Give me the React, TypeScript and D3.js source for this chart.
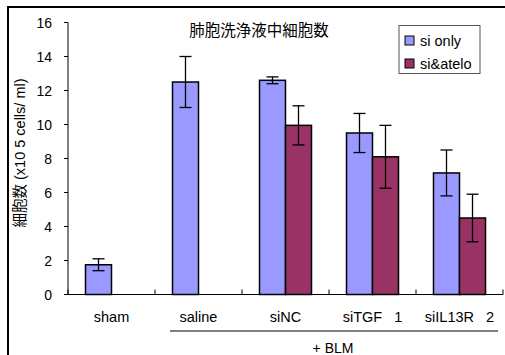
import React from "react";
import * as d3 from "d3";

const categories = ["sham", "saline", "siNC", "siTGF   1", "siIL13R   2"];
const seriesNames = ["si only", "si&atelo"];
const siOnly: (number | null)[] = [1.75, 12.5, 12.6, 9.5, 7.15];
const siOnlyErr: (number | null)[] = [0.35, 1.5, 0.2, 1.15, 1.35];
const siAtelo: (number | null)[] = [null, null, 9.95, 8.1, 4.5];
const siAteloErr: (number | null)[] = [null, null, 1.15, 1.85, 1.4];
const yTicks = [0, 2, 4, 6, 8, 10, 12, 14, 16];
const colors = ["#9999FF", "#993366"];
const title = "肺胞洗浄液中細胞数";
const yTitleCjk = "細胞数";
const yTitleRest = " (x10 5 cells/ ml)";
const groupLabel = "+ BLM";

export default function App() {
  const W = 505, H = 355;
  const left = 68, right = 503, top = 22.5, bottom = 294.5;
  const x = d3.scaleBand<string>().domain(categories).range([left, right]);
  const y = d3.scaleLinear().domain([0, 16]).range([bottom, top]);
  const bw = 26;
  const font = "Arial, 'Liberation Sans', sans-serif";
  const cjk = "'Noto Sans CJK JP', sans-serif";
  const series = [
    { v: siOnly, e: siOnlyErr, off: -bw },
    { v: siAtelo, e: siAteloErr, off: 0 },
  ];
  const bounds = d3.range(categories.length + 1).map((i) => left + i * x.bandwidth());
  return (
    <svg width={W} height={H} style={{ position: "absolute", left: 0, top: 0, background: "#fff" }}>
      <rect x={8} y={7} width={W + 10} height={H + 10} fill="#fff" stroke="#000" strokeWidth={2} />
      <text x={259} y={35.5} fontSize={15.5} fontFamily={cjk} textAnchor="middle" fill="#000">{title}</text>
      {/* bars */}
      {series.map((s, si) =>
        categories.map((c, ci) => {
          const v = s.v[ci];
          if (v == null) return null;
          const cx = x(c)! + x.bandwidth() / 2 + s.off;
          const e = s.e[ci] ?? 0;
          const mx = cx + bw / 2;
          return (
            <g key={si + "-" + ci}>
              <rect x={cx} y={y(v)} width={bw} height={y(0) - y(v)} fill={colors[si]} stroke="#000" strokeWidth={1.5} />
              <line x1={mx} x2={mx} y1={y(v + e)} y2={y(v - e)} stroke="#000" strokeWidth={1.3} />
              <line x1={mx - 6} x2={mx + 6} y1={y(v + e)} y2={y(v + e)} stroke="#000" strokeWidth={1.3} />
              <line x1={mx - 6} x2={mx + 6} y1={y(v - e)} y2={y(v - e)} stroke="#000" strokeWidth={1.3} />
            </g>
          );
        })
      )}
      {/* y axis */}
      <line x1={left} x2={left} y1={top} y2={bottom} stroke="#000" strokeWidth={1} />
      {yTicks.map((t) => (
        <g key={t}>
          <line x1={left - 4} x2={left} y1={y(t)} y2={y(t)} stroke="#000" />
          <text x={52} y={y(t) + 5} fontSize={14} fontFamily={font} textAnchor="end" fill="#000">{t}</text>
        </g>
      ))}
      {/* x axis */}
      <line x1={left} x2={right} y1={bottom} y2={bottom} stroke="#000" strokeWidth={1} />
      {bounds.map((b, i) => (
        <line key={i} x1={b} x2={b} y1={bottom} y2={bottom - 5} stroke="#000" />
      ))}
      {categories.map((c) => (
        <text key={c} x={x(c)! + x.bandwidth() / 2} y={322} fontSize={14.5} fontFamily={font} textAnchor="middle" fill="#000" style={{ whiteSpace: "pre" }} xmlSpace="preserve">{c}</text>
      ))}
      <line x1={170} x2={498} y1={331} y2={331} stroke="#000" strokeWidth={1} />
      <text x={333} y={353} fontSize={14} fontFamily={font} textAnchor="middle" fill="#000">{groupLabel}</text>
      <text transform={`translate(25,153) rotate(-90)`} fontSize={14.5} fontFamily={font} textAnchor="middle" fill="#000" style={{ whiteSpace: "pre" }} xmlSpace="preserve">
        <tspan fontFamily={cjk}>{yTitleCjk}</tspan>
        <tspan>{yTitleRest}</tspan>
      </text>
      {/* legend */}
      <rect x={399} y={25.5} width={81} height={48} fill="#fff" stroke="#555" strokeWidth={1} />
      {seriesNames.map((n, i) => (
        <g key={n}>
          <rect x={405} y={36 + i * 23} width={9} height={9} fill={colors[i]} stroke="#000" strokeWidth={1} />
          <text x={420} y={46 + i * 23} fontSize={14.5} fontFamily={font} fill="#000">{n}</text>
        </g>
      ))}
    </svg>
  );
}
